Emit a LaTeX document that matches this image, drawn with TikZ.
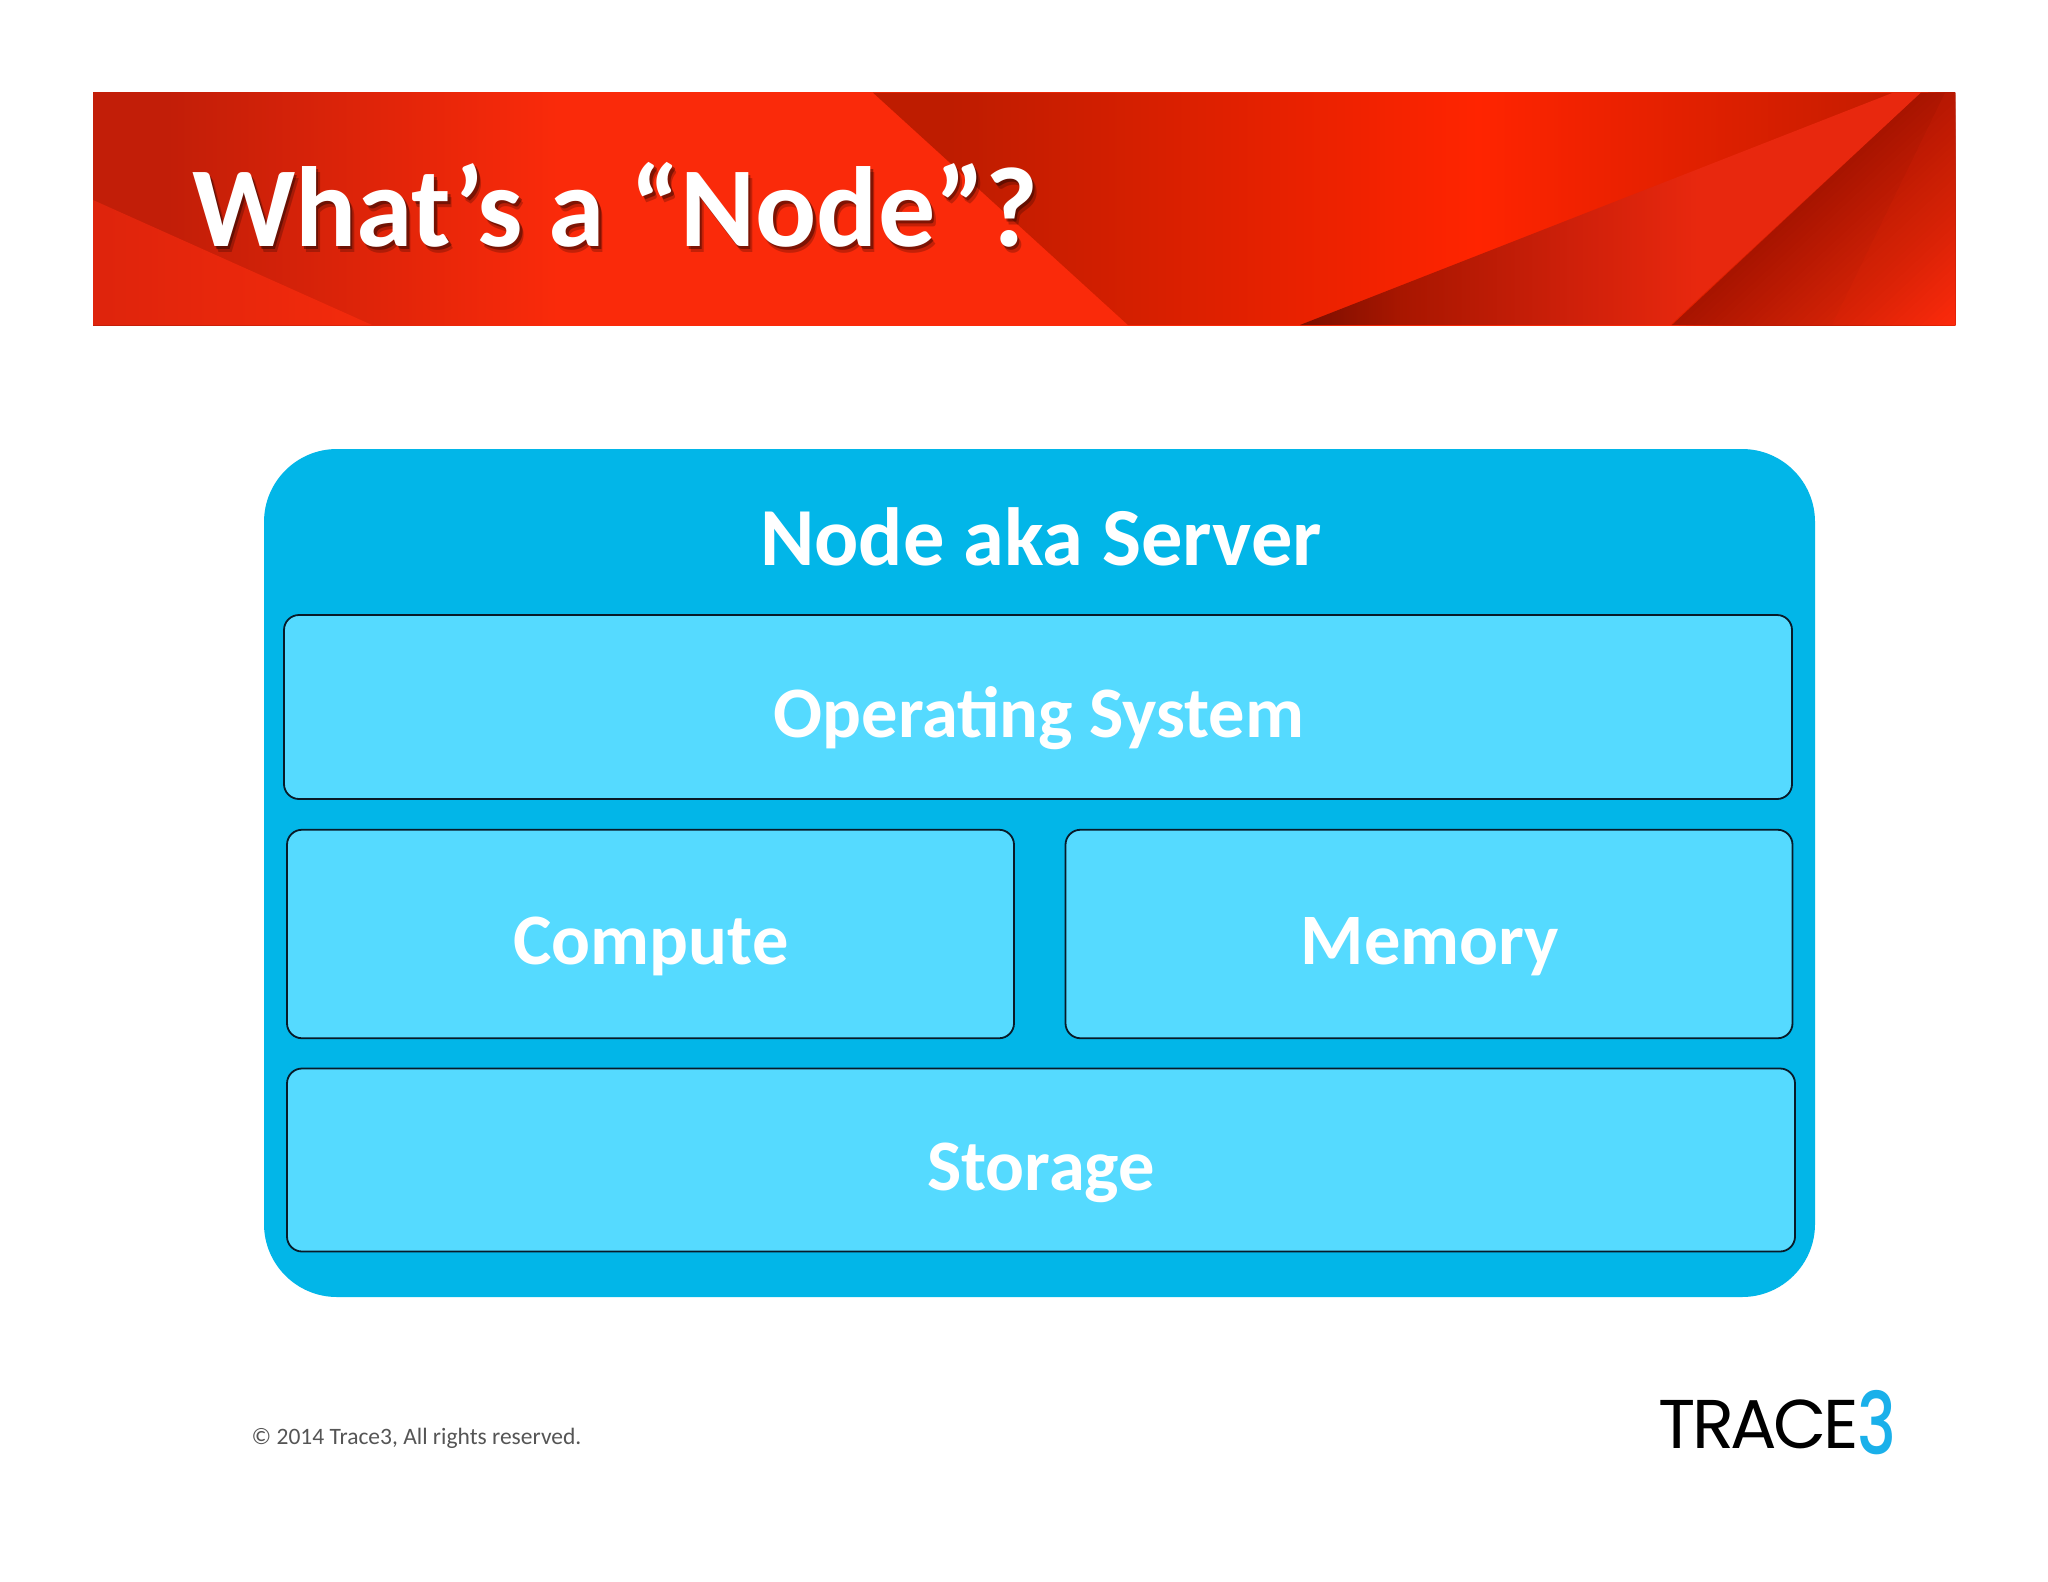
\documentclass[tikz,border=0pt]{standalone}
\usepackage{fontspec}
\usepackage{graphicx}
\setmainfont{Carlito}
\newfontfamily\logofont{Poppins}[LetterSpace=-5]
\newfontfamily\logothreefont{Poppins Medium}
\definecolor{outerblue}{HTML}{02B6E8}
\definecolor{innerblue}{HTML}{55DAFF}
\definecolor{edgeblack}{HTML}{081A28}
\definecolor{footgrey}{HTML}{555555}
\definecolor{logoblue}{HTML}{1AB0EA}
\definecolor{HTMLa}{HTML}{C21E08}
\definecolor{HTMLb}{HTML}{FA2A0A}
\definecolor{HTMLc}{HTML}{BE1C00}
\definecolor{HTMLd}{HTML}{FF2400}
\definecolor{HTMLe}{HTML}{C41C00}
\definecolor{HTMLf}{HTML}{7A0E00}
\definecolor{HTMLg}{HTML}{A81600}
\definecolor{HTMLh}{HTML}{E8280E}
\definecolor{HTMLi}{HTML}{DE240C}
\definecolor{HTMLj}{HTML}{F22A0C}
\definecolor{HTMLl}{HTML}{CF200A}
\definecolor{gradA}{HTML}{A81400}
\definecolor{gradB}{HTML}{D42206}
\definecolor{gradC}{HTML}{FF2A0C}
\pgfdeclarehorizontalshading{bannerbase}{100bp}{color(0bp)=(HTMLa); color(27bp)=(HTMLa); color(37.5bp)=(HTMLb); color(100bp)=(HTMLb)}
\pgfdeclarehorizontalshading{bannerleft}{100bp}{color(0bp)=(HTMLi); color(25bp)=(HTMLi); color(32bp)=(HTMLj); color(100bp)=(HTMLj)}
\pgfdeclarehorizontalshading{bannermid}{100bp}{color(0bp)=(HTMLc); color(48bp)=(HTMLc); color(62.2bp)=(HTMLd); color(73.5bp)=(HTMLe); color(100bp)=(HTMLe)}
\pgfdeclarehorizontalshading{bannertri}{100bp}{color(0bp)=(HTMLf); color(57.4bp)=(HTMLf); color(60.1bp)=(HTMLg); color(64.8bp)=(HTMLl); color(68.1bp)=(HTMLh); color(100bp)=(HTMLh)}
\tikzset{
  x=1pt,y=-1pt,
  outerbox/.style={draw=none,fill=outerblue,rounded corners=73pt,minimum width=1551pt,minimum height=848pt,inner sep=0pt},
  innerbox/.style={draw=edgeblack,line width=1.8pt,fill=innerblue,rounded corners=15pt,inner sep=0pt},
  boxlabel/.style={anchor=base,text=white,inner sep=0pt,font=\fontsize{72.5}{72.5}\selectfont\bfseries},
  headlabel/.style={anchor=base,text=white,inner sep=0pt,font=\fontsize{82.5}{82.5}\selectfont\bfseries},
  titlelabel/.style={anchor=base west,inner sep=0pt,font=\fontsize{114}{114}\selectfont\bfseries},
}
\newcommand{\bannerrect}{(93,92.7) rectangle (1955,325)}
\begin{document}
\begin{tikzpicture}
\useasboundingbox (0,0) rectangle (2048,1582);
\fill[white] (0,0) rectangle (2048,1582);
% banner
\shade[shading=bannerbase] \bannerrect;
\begin{scope}\clip (93,200) -- (372,325) -- (93,325) -- cycle; \shade[shading=bannerleft] \bannerrect;\end{scope}
\begin{scope}\clip (873,92.7) -- (1128,325) -- (1955,325) -- (1955,92.7) -- cycle; \shade[shading=bannermid] \bannerrect;\end{scope}
\begin{scope}\clip (1300,325) -- (1893,92.7) -- (1921,92.7) -- (1670,325) -- cycle; \shade[shading=bannertri] \bannerrect;\end{scope}
\begin{scope}
  \clip (1921,92.7) -- (1955,92.7) -- (1955,325) -- (1670,325) -- cycle;
  \foreach \t in {0,5,...,110} {
    \pgfmathtruncatemacro{\p}{100*\t/110}
    \fill[gradB!\p!gradA,shift={(1921,92.7)},rotate=-47] (\t,-600) rectangle (320,600);
  }
  \foreach \t in {115,120,...,195} {
    \pgfmathtruncatemacro{\p}{100*(\t-110)/85}
    \fill[gradC!\p!gradB,shift={(1921,92.7)},rotate=-47] (\t,-600) rectangle (320,600);
  }
  \fill[gradC,opacity=.10] (1945,92.7) -- (1955,92.7) -- (1955,325) -- (1832,325) -- cycle;
\end{scope}
% title
\node[titlelabel,text=black,opacity=.22] (titleshadowa) at (196,252) {What’s a “Node”?};
\node[titlelabel,text=black,opacity=.35] (titleshadowb) at (194.5,249.5) {What’s a “Node”?};
\node[titlelabel,text=white] (title) at (192,246) {What’s a “Node”?};
% boxes
\node[outerbox] (server) at (1039.5,873) {};
\node[headlabel] (serverlabel) at (1041,565.5) {Node aka Server};
\node[innerbox,minimum width=1508pt,minimum height=184pt] (os) at (1038,707) {};
\node[boxlabel] (oslabel) at (1039,737.5) {Operating System};
\node[innerbox,minimum width=727pt,minimum height=208.5pt] (compute) at (650.5,934) {};
\node[boxlabel] (computelabel) at (651,964.5) {Compute};
\node[innerbox,minimum width=727pt,minimum height=208.5pt] (memory) at (1429,934) {};
\node[boxlabel] (memorylabel) at (1430,964.5) {Memory};
\node[innerbox,minimum width=1508pt,minimum height=183pt] (storage) at (1041,1160) {};
\node[boxlabel] (storagelabel) at (1041,1190) {Storage};
% footer
\node[anchor=base west,inner sep=0pt,text=footgrey,font=\fontsize{23.5}{23.5}\selectfont] (copyright) at (251.5,1444.5) {© 2014 Trace3, All rights reserved.};
% logo
\node[anchor=base west,inner sep=0pt,font=\logofont\fontsize{69}{69}\selectfont] (logotrace) at (1658,1448) {TRACE};
\node[anchor=base west,inner sep=0pt,text=logoblue,font=\logothreefont\fontsize{86}{86}\selectfont] (logothree) at (1857,1454) {\scalebox{.76}[1]{3}};
\end{tikzpicture}
\end{document}
